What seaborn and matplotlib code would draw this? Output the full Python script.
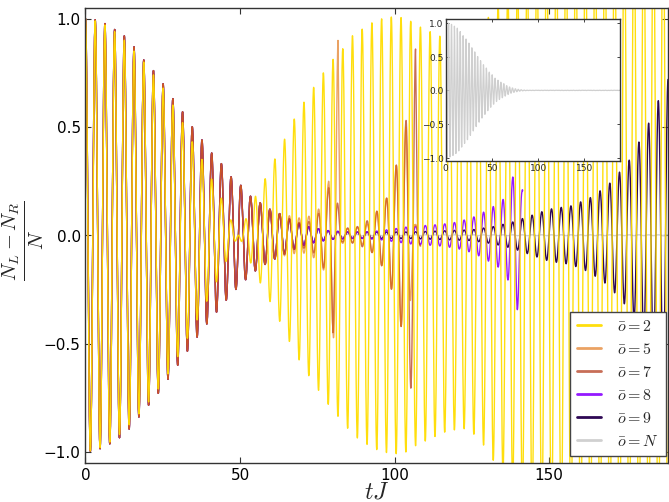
import numpy as np
import pandas as pd
import matplotlib
matplotlib.use("Agg")
import matplotlib.pyplot as plt
import seaborn as sns
from matplotlib.lines import Line2D

# ---------------- data ----------------
omega = 2.0          # carrier angular frequency (period = pi)
t_max = 188.5

early_t = [0, 3.1, 6.3, 9.4, 12.6, 15.7, 18.8, 22.0, 25.1, 28.3, 31.4, 34.6,
           37.7, 40.8, 44.0, 47.1, 50.3, 53.4, 56.5, 59.7]
early_a = [1.0, 0.995, 0.977, 0.95, 0.92, 0.87, 0.81, 0.76, 0.70, 0.63, 0.57,
           0.50, 0.44, 0.38, 0.33, 0.27, 0.23, 0.18, 0.15, 0.12]

o2_t = [0, 3.1, 6.3, 9.4, 12.6, 15.7, 18.8, 22.0, 25.1, 28.3, 31.4, 34.6, 37.7,
        40.8, 44.0, 47.1, 49.5, 52.0, 55.0, 58.1, 61.2, 64.3, 67.3, 70.5, 73.7,
        77.0, 80.0, 83.2, 86.3, 89.4, 92.6, 96.0, 100.0, 104.0, 107.0, 110.0,
        113.0, 116.0, 119.0, 122.0, 125.0, 128.0, 131.0, 135.0, 140.0, 150.0, 188.5]
o2_a = [1.0, 0.99, 0.97, 0.94, 0.9, 0.85, 0.8, 0.74, 0.68, 0.6, 0.52, 0.43, 0.35,
        0.26, 0.17, 0.07, 0.0, -0.08, -0.18, -0.26, -0.35, -0.44, -0.53, -0.61,
        -0.68, -0.75, -0.81, -0.86, -0.92, -0.95, -0.98, -1.0, -1.01, -1.0, -0.97,
        -0.95, -0.93, -0.91, -0.9, -0.89, -0.91, -0.95, -1.02, -1.1, -1.2, -1.35, -1.5]

o5_tail_t = [62.8, 66, 69, 72, 75.4, 77.0, 78.5, 80.1, 81.7, 82.6, 85, 88, 91,
             92.7, 94.2, 95.8, 97.4, 99.0, 100.5, 102.1, 103.7, 105.2, 106.5]
o5_tail_a = [0.10, 0.09, 0.08, 0.085, 0.12, 0.16, 0.235, 0.45, 0.9, 0.04, 0.03,
             0.035, 0.05, 0.08, 0.11, 0.14, 0.17, 0.25, 0.32, 0.42, 0.5, 0.3, 0.05]
o5_end = 108.0

o7_tail_t = [62.8, 66, 69, 72, 75.4, 78.5, 80.1, 81.0, 83, 88, 92.7, 95.8, 97.4,
             99.0, 100.5, 102.1, 103.7, 105.2, 106.8, 107.6]
o7_tail_a = [0.10, 0.075, 0.06, 0.06, 0.1, 0.2, 0.45, 0.2, 0.03, 0.04, 0.08,
             0.14, 0.17, 0.25, 0.32, 0.42, 0.53, 0.70, 0.86, 0.05]
o7_end = 108.5

o8_tail_t = [62.8, 66, 69, 72, 75.5, 79, 85, 90, 95, 100, 105, 110, 115, 120,
             125, 128, 131.7, 134.9, 136.5, 138.1, 139.7, 141.2]
o8_tail_a = [0.10, 0.075, 0.055, 0.04, 0.03, 0.02, 0.015, 0.015, 0.02, 0.03,
             0.04, 0.045, 0.05, 0.06, 0.08, 0.1, 0.13, 0.16, 0.2, 0.26, 0.35, 0.21]
o8_end = 141.5

o9_tail_t = [62.8, 66, 69, 72, 75.5, 79, 85, 95, 105, 115, 125, 132, 138, 144,
             150, 157, 163, 169, 175.5, 181.7, 185, 188.5]
o9_tail_a = [0.10, 0.075, 0.055, 0.04, 0.03, 0.02, 0.015, 0.015, 0.015, 0.02,
             0.025, 0.04, 0.06, 0.09, 0.12, 0.135, 0.17, 0.23, 0.335, 0.5, 0.61, 0.72]

oN_tail_t = [62.8, 66, 70, 75, 80, 85, 90, 100, 188.5]
oN_tail_a = [0.10, 0.07, 0.045, 0.025, 0.012, 0.005, 0.002, 0.002, 0.002]

labels = [r"$\bar{o}=2$", r"$\bar{o}=5$", r"$\bar{o}=7$", r"$\bar{o}=8$",
          r"$\bar{o}=9$", r"$\bar{o}=N$"]
colors = ["#FFDD00", "#E07010", "#B03010", "#8800FF", "#2E0854", "#D0D0D0"]
alphas = [0.95, 0.65, 0.7, 0.9, 1.0, 1.0]


def series(env_t, env_a, end=t_max):
    t = np.arange(0, end, 0.02)
    env = np.interp(t, env_t, env_a)
    return t, env * np.cos(omega * t)


data = [
    series(o2_t, o2_a),
    series(early_t + o5_tail_t, early_a + o5_tail_a, o5_end),
    series(early_t + o7_tail_t, early_a + o7_tail_a, o7_end),
    series(early_t + o8_tail_t, early_a + o8_tail_a, o8_end),
    series(early_t + o9_tail_t, early_a + o9_tail_a),
    series(early_t + oN_tail_t, early_a + oN_tail_a),
]

sns.set_style("ticks")
plt.rcParams["font.family"] = ["DejaVu Sans"]
plt.rcParams["mathtext.fontset"] = "cm"
plt.rcParams["axes.edgecolor"] = "#333333"
plt.rcParams["axes.linewidth"] = 1.0

fig = plt.figure(figsize=(6.69, 5.025), dpi=100)
ax = fig.add_axes([0.1278, 0.0783, 0.8707, 0.9052])

for i in reversed(range(6)):
    t, y = data[i]
    sns.lineplot(x=t, y=y, ax=ax, color=colors[i], alpha=alphas[i],
                 lw=1.0, estimator=None, sort=False, legend=False)

ax.set_xlim(0, t_max)
ax.set_ylim(-1.05, 1.05)
ax.set_xticks([0, 50, 100, 150])
ax.set_yticks([-1.0, -0.5, 0.0, 0.5, 1.0])
ax.set_yticklabels(["\u22121.0", "\u22120.5", "0.0", "0.5", "1.0"])
ax.tick_params(direction="in", top=True, right=True, length=4, width=0.8,
               labelsize=11, colors="#333333", labelcolor="black")
ax.set_xlabel(r"$tJ$", fontsize=17)
ax.xaxis.set_label_coords(0.5, -0.035)
ax.set_ylabel(r"$\frac{N_L-N_R}{N}$", fontsize=21)
ax.yaxis.set_label_coords(-0.068, 0.49)

handles = [Line2D([0], [0], color=colors[i], alpha=alphas[i], lw=2.0)
           for i in range(6)]
leg = ax.legend(handles, labels, loc="lower right",
                bbox_to_anchor=(0.996, 0.015), borderaxespad=0,
                fontsize=11.5, handlelength=1.45, handletextpad=1.0,
                labelspacing=0.5, fancybox=False, framealpha=1.0,
                edgecolor="#444444", borderpad=0.45)
leg.get_frame().set_linewidth(1.0)

axi = fig.add_axes([0.6662, 0.678, 0.2605, 0.2823])
tN, yN = data[5]
sns.lineplot(x=tN, y=yN, ax=axi, color="#CFCFCF", lw=0.9,
             estimator=None, sort=False, legend=False)
axi.set_xlim(0, t_max)
axi.set_ylim(-1.05, 1.05)
axi.set_xticks([0, 50, 100, 150])
axi.set_yticks([-1.0, -0.5, 0.0, 0.5, 1.0])
axi.set_yticklabels(["\u22121.0", "\u22120.5", "0.0", "0.5", "1.0"])
axi.tick_params(direction="in", top=True, right=True, length=2.5, width=0.6,
                labelsize=6.5, pad=1.5)
axi.set_xlabel("")
axi.set_ylabel("")
axi.set_facecolor("white")

fig.savefig("out.png", dpi=100)
